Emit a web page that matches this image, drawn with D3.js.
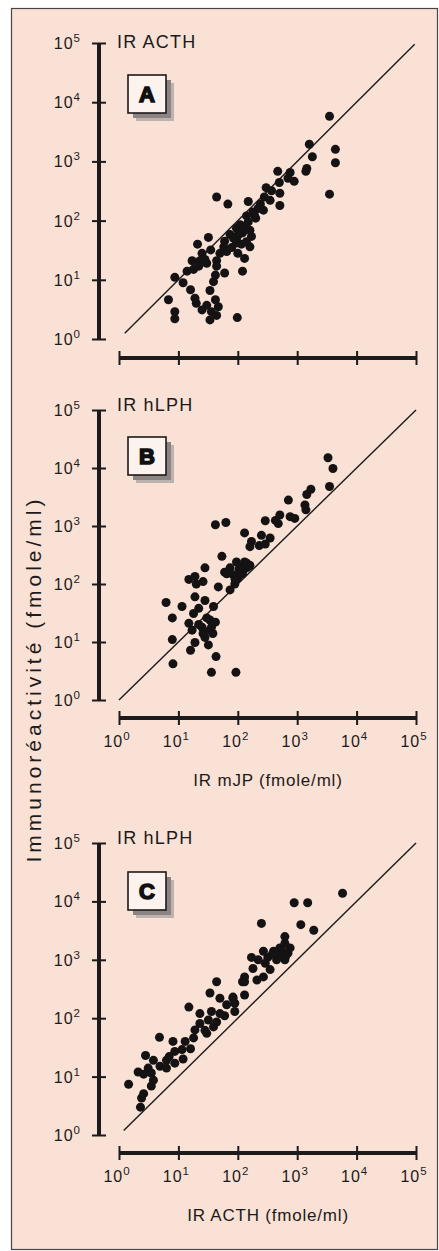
<!DOCTYPE html>
<html>
<head>
<meta charset="UTF-8">
<style>
  body { margin: 0; background: #fff; }
  svg text { font-family: "Liberation Sans", Arial, sans-serif; fill: #1c1a1a; }
</style>
<title>Immunoréactivité</title>
</head>
<body>
<svg id="chart" width="439" height="1251"></svg>
<script src="https://d3js.org/d3.v7.min.js"></script>
<script>
// tick values and their exponents (labels are written 10^n)
const decades = [1, 10, 100, 1000, 10000, 100000];
const exponents = ["0", "1", "2", "3", "4", "5"];

// A : IR ACTH (y) vs IR mJP (x), fmole/ml
const acthVsMjp = [
  [3500, 5800], [4400, 1600], [4400, 950], [3500, 280], [1600, 1950], [1800, 1200],
  [1450, 760], [1400, 680], [470, 680], [760, 650], [890, 460], [500, 440],
  [300, 360], [370, 320], [280, 250], [510, 290], [510, 180], [150, 210],
  [180, 140], [270, 150], [44, 250], [68, 190], [140, 120], [110, 85],
  [95, 74], [160, 69], [74, 58], [120, 62], [170, 54], [140, 44],
  [95, 42], [58, 36], [160, 36], [32, 52], [21, 40], [50, 28],
  [65, 30], [100, 28], [130, 23], [95, 47], [17, 21], [23, 21],
  [30, 19], [18, 15], [14, 14], [44, 21], [44, 17], [60, 13],
  [120, 14], [42, 12], [39, 9.3], [8.7, 11], [12, 8.9], [16, 6.8],
  [34, 6.6], [6.8, 4.6], [19, 4.9], [20, 4.0], [30, 3.7], [42, 4.6],
  [47, 3.5], [36, 2.9], [8.7, 2.9], [8.7, 2.2], [34, 2.1], [44, 2.5],
  [98, 2.3], [25, 3.1], [200, 110], [220, 160], [100, 56], [79, 35],
  [350, 220], [700, 520], [35, 32], [25, 28], [85, 50], [130, 75],
  [115, 40], [150, 95], [190, 125], [240, 190], [60, 45], [105, 65],
  [28, 22], [22, 17]
];

// B : IR hLPH (y) vs IR mJP (x)
const lphVsMjp = [
  [3300, 15000], [4000, 9800], [3500, 4800], [1700, 4300], [1450, 3500], [710, 2800],
  [1350, 2300], [1400, 1900], [510, 1550], [760, 1450], [430, 1250], [910, 1350],
  [480, 1100], [290, 1230], [42, 1050], [63, 1150], [130, 760], [250, 690],
  [350, 620], [170, 540], [160, 440], [230, 460], [290, 490], [54, 300],
  [28, 190], [95, 240], [130, 240], [150, 200], [74, 190], [110, 160],
  [60, 160], [83, 145], [19, 135], [15, 120], [20, 100], [26, 110],
  [47, 89], [65, 150], [110, 200], [140, 230], [74, 79], [6.2, 48],
  [11.5, 41], [19, 60], [28, 52], [22, 38], [39, 41], [7.9, 26],
  [18, 31], [15, 21], [34, 24], [42, 22], [17, 16], [25, 18],
  [34, 16], [28, 12], [38, 14], [7.9, 11], [19, 9.8], [32, 8.9],
  [16, 7.2], [43, 5.6], [8.1, 4.2], [36, 3.0], [93, 3.0], [100, 126],
  [126, 178], [89, 100], [120, 150], [140, 190], [105, 180], [160, 210],
  [90, 120], [22, 20], [30, 26], [36, 18], [26, 14]
];

// C : IR hLPH (y) vs IR ACTH (x)
const lphVsActh = [
  [5800, 13800], [890, 9500], [1500, 9500], [250, 4200], [1150, 4000], [1900, 3200],
  [620, 2500], [620, 1900], [760, 1600], [510, 1600], [400, 1400], [270, 1400],
  [320, 1100], [170, 1100], [220, 1000], [450, 1000], [620, 1000], [290, 870],
  [180, 710], [350, 680], [130, 510], [270, 510], [210, 450], [120, 420],
  [130, 250], [83, 230], [89, 180], [44, 420], [130, 420], [34, 270],
  [50, 220], [65, 170], [15, 155], [23, 120], [36, 130], [50, 120],
  [32, 93], [23, 81], [39, 71], [19, 63], [30, 55], [18, 46],
  [4.8, 47], [8.1, 40], [13, 40], [11.5, 29], [8.7, 27], [12, 20],
  [2.8, 23], [3.8, 19], [6.3, 19], [8.7, 17], [4.9, 15], [6.3, 14],
  [3.1, 14], [2.1, 12], [2.6, 11], [3.5, 11.5], [3.8, 8.7], [3.5, 6.9],
  [1.45, 7.4], [2.6, 5.1], [2.4, 4.3], [2.3, 3.0], [83, 220], [89, 130],
  [560, 1400], [700, 1300], [640, 1150], [480, 1200], [380, 1250], [28, 62],
  [44, 86], [60, 110], [16, 30], [7, 22]
];

// line of identity y = x, drawn between these values
const identityA = [1.25, 95000];
const identityB = [1, 100000];
const identityC = [1.2, 100000];

const panels = [
  { letter: "A", data: acthVsMjp, identity: identityA, yName: "IR ACTH", xTitle: null,
    top: 43, bottom: 339, axisY: 358, nameDy: 5, boxTop: 75 },
  { letter: "B", data: lphVsMjp, identity: identityB, yName: "IR hLPH", xTitle: "IR mJP (fmole/ml)",
    top: 410, bottom: 700, axisY: 718, nameDy: 1, boxTop: 437 },
  { letter: "C", data: lphVsActh, identity: identityC, yName: "IR hLPH", xTitle: "IR ACTH (fmole/ml)",
    top: 843, bottom: 1135, axisY: 1153, nameDy: 1, boxTop: 872 }
];

const svg = d3.select("#chart");
const xLeft = 119, xRight = 416, yAxisX = 99;

// pink frame
svg.append("rect")
  .attr("x", 11.5).attr("y", 8.5)
  .attr("width", 426).attr("height", 1241)
  .attr("fill", "#f9e1d5")
  .attr("stroke", "#4a4444").attr("stroke-width", 1.2);

function powLabel(sel, exp) {
  sel.append("tspan").text("10");
  sel.append("tspan").attr("dy", -7).attr("font-size", 11.5).text(exp);
}

panels.forEach(p => {
  const x = d3.scaleLog().domain([1, 1e5]).range([xLeft, xRight]);
  const y = d3.scaleLog().domain([1, 1e5]).range([p.bottom, p.top]);
  const g = svg.append("g");

  // y axis
  const yAxis = g.append("g")
    .attr("transform", `translate(${yAxisX},0)`)
    .call(d3.axisLeft(y).tickValues(decades).tickSize(7).tickFormat(""));
  yAxis.select(".domain").remove();
  yAxis.selectAll(".tick line")
    .attr("x1", -7).attr("x2", 7)
    .attr("stroke", "#1c1a1a").attr("stroke-width", 2);
  g.append("line")
    .attr("x1", yAxisX).attr("x2", yAxisX)
    .attr("y1", y(1e5)).attr("y2", y(1))
    .attr("stroke", "#1c1a1a").attr("stroke-width", 4);

  decades.forEach((d, i) => {
    g.append("text")
      .attr("x", 81).attr("y", y(d) + 6)
      .attr("text-anchor", "end")
      .attr("font-size", 16)
      .attr("letter-spacing", 1)
      .call(powLabel, exponents[i]);
  });

  // x axis
  const xAxis = g.append("g")
    .attr("transform", `translate(0,${p.axisY})`)
    .call(d3.axisBottom(x).tickValues(decades).tickSize(7).tickFormat(""));
  xAxis.select(".domain").remove();
  xAxis.selectAll(".tick line")
    .attr("y1", -7).attr("y2", 7)
    .attr("stroke", "#1c1a1a").attr("stroke-width", 2);
  g.append("line")
    .attr("x1", x(1)).attr("x2", x(1e5))
    .attr("y1", p.axisY).attr("y2", p.axisY)
    .attr("stroke", "#1c1a1a").attr("stroke-width", 4);

  if (p.xTitle) {
    decades.forEach((d, i) => {
      g.append("text")
        .attr("x", x(d) - 2).attr("y", p.axisY + 29)
        .attr("text-anchor", "middle")
        .attr("font-size", 16)
        .attr("letter-spacing", 1)
        .call(powLabel, exponents[i]);
    });
    g.append("text")
      .attr("x", 268).attr("y", p.axisY + 68)
      .attr("text-anchor", "middle")
      .attr("font-size", 17)
      .attr("letter-spacing", 0.8)
      .text(p.xTitle);
  }

  // quantity name near top of y axis
  g.append("text")
    .attr("x", 117).attr("y", p.top + p.nameDy)
    .attr("font-size", 18)
    .attr("letter-spacing", 1.2)
    .text(p.yName);

  // identity line
  g.append("line")
    .attr("x1", x(p.identity[0])).attr("y1", y(p.identity[0]))
    .attr("x2", x(p.identity[1])).attr("y2", y(p.identity[1]))
    .attr("stroke", "#1c1a1a").attr("stroke-width", 1.4);

  // points
  g.append("g").selectAll("circle")
    .data(p.data)
    .join("circle")
    .attr("cx", d => x(d[0]))
    .attr("cy", d => y(d[1]))
    .attr("r", 4.5)
    .attr("fill", "#141212");

  // letter box with drop shadow
  const bx = 128, bs = 38;
  g.append("rect").attr("x", bx + 8).attr("y", p.boxTop + 8)
    .attr("width", bs).attr("height", bs).attr("fill", "#bdb3ae");
  g.append("rect").attr("x", bx + 5).attr("y", p.boxTop + 5)
    .attr("width", bs).attr("height", bs).attr("fill", "#8c8482");
  g.append("rect").attr("x", bx).attr("y", p.boxTop)
    .attr("width", bs).attr("height", bs)
    .attr("fill", "#fcf3ee").attr("stroke", "#1c1a1a").attr("stroke-width", 1.6);
  g.append("text")
    .attr("x", bx + bs / 2).attr("y", p.boxTop + bs / 2 + 8)
    .attr("text-anchor", "middle")
    .attr("font-size", 22).attr("font-weight", 900)
    .attr("stroke", "#111").attr("stroke-width", 1.6)
    .style("fill", "#111")
    .text(p.letter);
});

// shared y title
svg.append("text")
  .attr("transform", "translate(41,679) rotate(-90)")
  .attr("text-anchor", "middle")
  .attr("font-size", 21)
  .attr("letter-spacing", 4)
  .text("Immunoréactivité (fmole/ml)");
</script>
</body>
</html>
